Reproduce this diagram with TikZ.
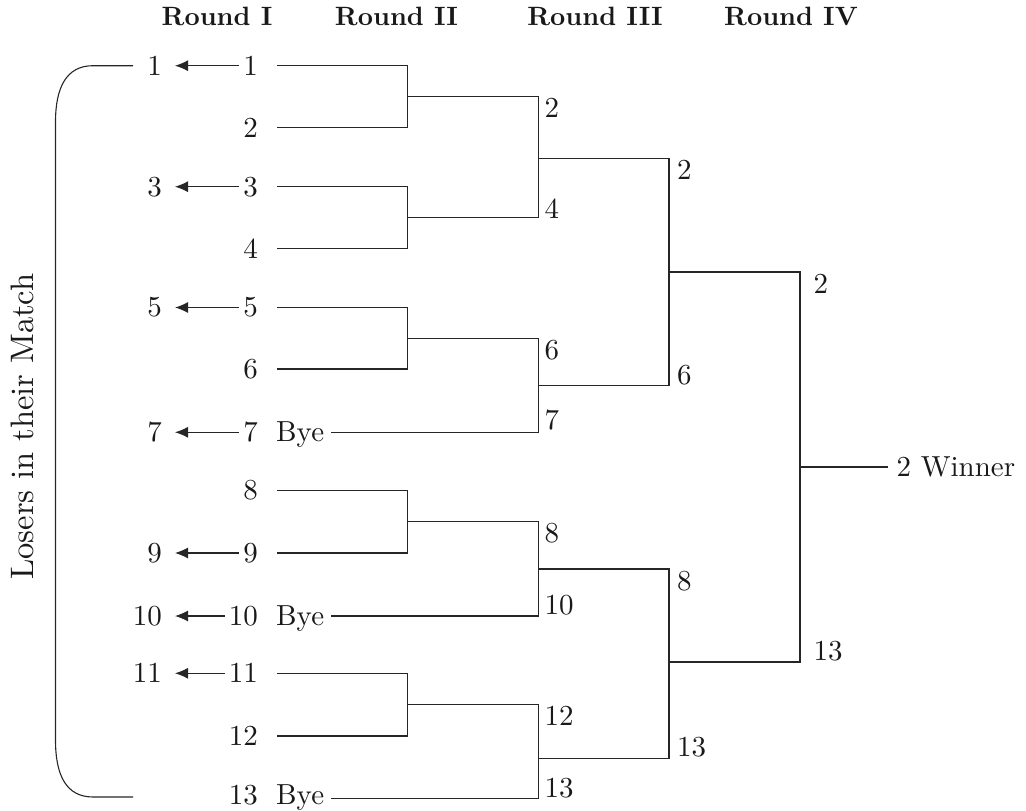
\documentclass[tikz,border=0pt]{standalone}
\usepackage{fontspec}
\setmainfont{lmroman10-regular.otf}[BoldFont=lmroman10-bold.otf]
\usetikzlibrary{arrows.meta}
\begin{document}
\begin{tikzpicture}[x=1pt,y=-1pt,
  conn/.style={draw=black!85, line width=1.1pt},
  num/.style={inner sep=0pt, text=black!90, font=\fontsize{29}{34}\selectfont},
  head/.style={inner sep=0pt, anchor=base, text=black!90, font=\fontsize{26.5}{30}\selectfont\bfseries},
  loser/.style={draw=black!85, line width=1.1pt, -{Latex[length=13pt,width=11pt]}, shorten <=4pt, shorten >=13pt},
  toplab/.style={num, anchor=north west},
  botlab/.style={num, anchor=south west},
]
\useasboundingbox (0,0) rectangle (1026,811);

% headers
\node[head] (h1) at (217,25) {Round I};
\node[head] (h2) at (396.5,25) {Round II};
\node[head] (h3) at (595,25) {Round III};
\node[head] (h4) at (791,25) {Round IV};

% round I entrants
\foreach \i/\y in {1/65.7,2/127.7,3/186.7,4/248.3,5/307.5,6/369,7/432.3,8/490.3,9/553,10/616,11/673.3,12/736,13/795}{
  \node[num, anchor=east] (n\i) at (258,\y) {\i};
}
\foreach \i/\y in {1/65.7,2/127.7,3/186.7,4/248.3,5/307.5,6/369,8/490.3,9/553,11/673.3,12/736}{
  \coordinate (s\i) at (277,\y);
}
\foreach \i/\y in {7/432.3,10/616,13/798.5}{
  \node[num, anchor=base west] (bye\i) at (276,0 |- n\i.base) {Bye};
  \coordinate (s\i) at (331,\y);
}

% losers
\foreach \i in {1,3,5,7,9,10,11}{
  \node[num, anchor=east] (l\i) at (162,0 |- n\i) {\i};
  \draw[loser] (n\i.west) -- (l\i.east);
}

% losers bracket
\coordinate (bt) at (133,65.7);
\coordinate (bb) at (133,797);
\draw[conn] (bt) -- (93,65.7) .. controls (66,65.7) and (55.5,88) .. (55.5,122)
  -- (55.5,740) .. controls (55.5,775) and (66,797) .. (93,797) -- (bb);
\node[rotate=90, inner sep=0pt, text=black!90, font=\fontsize{32.5}{36}\selectfont] (losers) at (22,426.5) {Losers in their Match};

% junctions
\coordinate (j12) at (407.3,96.7);
\coordinate (j34) at (407.3,217.5);
\coordinate (j56) at (407.3,338.3);
\coordinate (j89) at (407.3,521.7);
\coordinate (j1112) at (407.3,704.7);
\coordinate (k1) at (538.3,158.3);
\coordinate (k2) at (538.3,385.7);
\coordinate (k3) at (538.3,569);
\coordinate (k4) at (538.3,758.3);
\coordinate (m1) at (669,272);
\coordinate (m2) at (669,662);
\coordinate (w) at (800,467);

% round I brackets
\draw[conn] (s1) -| (j12) |- (s2);
\draw[conn] (s3) -| (j34) |- (s4);
\draw[conn] (s5) -| (j56) |- (s6);
\draw[conn] (s8) -| (j89) |- (s9);
\draw[conn] (s11) -| (j1112) |- (s12);
% round II brackets
\draw[conn] (j12) -| (k1) |- (j34);
\draw[conn] (j56) -| (k2) |- (s7);
\draw[conn] (j89) -| (k3) |- (s10);
\draw[conn] (j1112) -| (k4) |- (s13);
% round III brackets
\draw[conn] (k1) -| (m1) |- (k2);
\draw[conn] (k3) -| (m2) |- (k4);
% round IV bracket
\draw[conn] (m1) -| (w) |- (m2);

% winner
\node[num, anchor=west] (win) at (896.5,467) {2 Winner};
\draw[conn] (w) -- ([xshift=-9pt]win.west);

% round II labels
\node[toplab] (a2) at (544.5,98.2) {2};
\node[botlab] (a4) at (544.5,218.5) {4};
\node[toplab] (a6) at (544.5,339.8) {6};
\node[botlab] (a7) at (544.5,430.5) {7};
\node[toplab] (a8) at (544.5,523.2) {8};
\node[botlab] (a10) at (544.5,615.5) {10};
\node[toplab] (a12) at (544.5,706.2) {12};
\node[botlab] (a13) at (544.5,798) {13};
% round III labels
\node[toplab] (b2) at (677,159.8) {2};
\node[botlab] (b6) at (677,385.2) {6};
\node[toplab] (b8) at (677,571) {8};
\node[botlab] (b13) at (677,757.8) {13};
% round IV labels
\node[toplab] (c2) at (813.5,273.5) {2};
\node[botlab] (c13) at (813.5,661.5) {13};
\end{tikzpicture}
\end{document}
